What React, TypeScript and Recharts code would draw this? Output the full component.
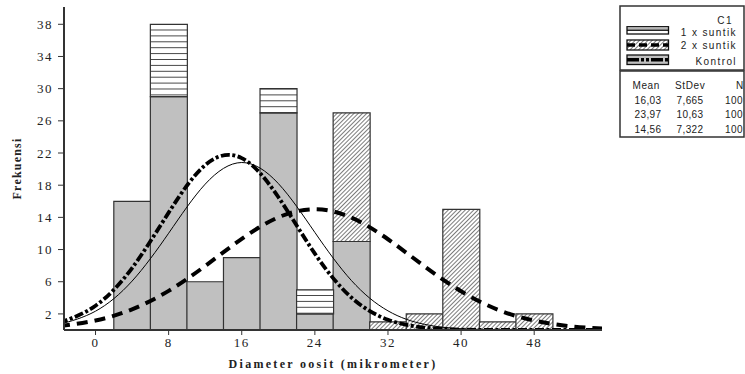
import React from 'react';
import { ComposedChart, Bar, Line, XAxis, YAxis, Legend } from 'recharts';

// bin centres (width 4) – also the sample points of the fitted curves
const binCenters = [-4, 0, 4, 8, 12, 16, 20, 24, 28, 32, 36, 40, 44, 48, 52, 56];
// visible stacked segments of the histogram
const kontrolBars = [null, null, 16, 29, 6, 9, 27, 2, 11, null, null, null, null, null, null, null];
const satuSuntikBars = [null, null, null, 9, null, null, 3, 3, null, null, null, null, null, null, null, null];
const duaSuntikBars = [null, null, null, null, null, null, null, null, 16, 1, 2, 15, 1, 2, null, null];
// fitted normal curves
const kontrolCurve = [0.88, 3.02, 7.7, 14.59, 20.5, 21.37, 16.53, 9.49, 4.04, 1.28, 0.3, 0.05, 0.01, 0, 0, 0];
const satuSuntikCurve = [0.69, 2.34, 6.08, 12.03, 18.13, 20.82, 18.21, 12.13, 6.15, 2.38, 0.7, 0.16, 0.03, 0, 0, 0];
const duaSuntikCurve = [0.47, 1.18, 2.57, 4.86, 7.96, 11.33, 14.0, 15.01, 13.97, 11.28, 7.91, 4.82, 2.54, 1.17, 0.46, 0.16];

const xTicks = [0, 8, 16, 24, 32, 40, 48];
const yTicks = [2, 6, 10, 14, 18, 22, 26, 30, 34, 38];

const groupNames = ['1 x suntik', '2 x suntik', 'Kontrol'];
const statMeans = ['16,03', '23,97', '14,56'];
const statStDevs = ['7,665', '10,63', '7,322'];
const statNs = ['100', '100', '100'];

const data = binCenters.map((x, i) => ({
  x,
  kontrol: kontrolBars[i],
  satu: satuSuntikBars[i],
  dua: duaSuntikBars[i],
  kontrolFit: kontrolCurve[i],
  satuFit: satuSuntikCurve[i],
  duaFit: duaSuntikCurve[i],
}));

const SERIF = '"Liberation Serif", "Times New Roman", serif';
const SANS = '"Liberation Sans", Arial, sans-serif';

const renderLegend = () => {
  const sw = [
    { y: 21.7, h: 7.3, fill: 'url(#hlines)', dash: undefined, w: 1 },
    { y: 35, h: 10, fill: 'url(#hatch)', dash: '8 4', w: 3.5 },
    { y: 50, h: 9.5, fill: '#c0c0c0', dash: '12 2 3 2 3 2', w: 3.5 },
  ];
  const labelY = [30.8, 43.8, 59.5];
  const rowY = [98.5, 113, 127.5];
  return (
    <svg width={127} height={134} style={{ display: 'block', overflow: 'visible' }}>
      <rect x={1} y={1} width={124} height={64} fill="#fff" stroke="#333" strokeWidth={1.5} />
      <rect x={1} y={66} width={124} height={66} fill="#fff" stroke="#333" strokeWidth={1.5} />
      <text x={114} y={18.5} textAnchor="end" fontFamily={SANS} fontSize={10} letterSpacing={1.5} fill="#222">C1</text>
      {groupNames.map((g, i) => (
        <g key={g}>
          <rect x={8} y={sw[i].y} width={41.5} height={sw[i].h} fill={sw[i].fill} stroke="#111" strokeWidth={1.3} />
          <line x1={8} x2={49.5} y1={sw[i].y + sw[i].h / 2} y2={sw[i].y + sw[i].h / 2} stroke="#000" strokeWidth={sw[i].w} strokeDasharray={sw[i].dash} />
          <text x={118} y={labelY[i]} textAnchor="end" fontFamily={SANS} fontSize={10} letterSpacing={1.4} fill="#222">{g}</text>
        </g>
      ))}
      <text x={13.5} y={83.5} fontFamily={SANS} fontSize={10} letterSpacing={0.6} fill="#222">Mean</text>
      <text x={56} y={83.5} fontFamily={SANS} fontSize={10} letterSpacing={0.6} fill="#222">StDev</text>
      <text x={117} y={83.5} fontFamily={SANS} fontSize={10} fill="#222">N</text>
      {statMeans.map((m, i) => (
        <g key={m}>
          <text x={15.5} y={rowY[i]} fontFamily={SANS} fontSize={10} letterSpacing={0.4} fill="#222">{m}</text>
          <text x={57.5} y={rowY[i]} fontFamily={SANS} fontSize={10} letterSpacing={0.4} fill="#222">{statStDevs[i]}</text>
          <text x={106} y={rowY[i]} fontFamily={SANS} fontSize={10} letterSpacing={0.4} fill="#222">{statNs[i]}</text>
        </g>
      ))}
    </svg>
  );
};

export default function App() {
  return (
    <div style={{ position: 'absolute', left: 0, top: 0, width: 745, height: 374, background: '#fff' }}>
      <ComposedChart
        width={745}
        height={374}
        data={data}
        margin={{ top: 7, right: 143, bottom: 0, left: 4 }}
        barCategoryGap={0}
        barGap={0}
      >
        <defs>
          <pattern id="hlines" patternUnits="userSpaceOnUse" width={10} height={5.9}>
            <rect x={0} y={0} width={10} height={5.9} fill="#fff" />
            <line x1={0} x2={10} y1={0.5} y2={0.5} stroke="#333" strokeWidth={0.9} />
          </pattern>
          <pattern id="hatch" patternUnits="userSpaceOnUse" width={3} height={3} patternTransform="rotate(45)">
            <rect x={0} y={0} width={3} height={3} fill="#fff" />
            <line x1={0.5} x2={0.5} y1={0} y2={3} stroke="#444" strokeWidth={0.7} />
          </pattern>
        </defs>
        <XAxis
          dataKey="x"
          type="number"
          domain={[-3.45, 55.42]}
          allowDataOverflow
          ticks={xTicks}
          interval={0}
          height={44}
          tickSize={5}
          tickMargin={3}
          axisLine={{ stroke: '#333', strokeWidth: 2 }}
          tickLine={{ stroke: '#333' }}
          tick={{ fontSize: 13, fill: '#222', fontFamily: SERIF, letterSpacing: 1.5 }}
          label={{
            value: 'Diameter oosit (mikrometer)',
            position: 'insideBottom',
            offset: 6.5,
            style: { fontFamily: SERIF, fontWeight: 'bold', fontSize: 12, letterSpacing: 2.3, fill: '#222' },
          }}
        />
        <XAxis xAxisId="top" orientation="top" type="number" domain={[-3.45, 55.42]} allowDataOverflow height={0} tick={false} tickLine={false} axisLine={{ stroke: '#333', strokeWidth: 2 }} />
        <YAxis
          type="number"
          domain={[0, 40.15]}
          allowDataOverflow
          ticks={yTicks}
          interval={0}
          width={60}
          tickSize={6}
          tickMargin={5}
          axisLine={{ stroke: '#333', strokeWidth: 2 }}
          tickLine={{ stroke: '#333' }}
          tick={{ fontSize: 13, fill: '#222', fontFamily: SERIF, letterSpacing: 1.5 }}
          label={{
            value: 'Frekuensi',
            angle: -90,
            position: 'insideLeft',
            offset: 13,
            style: { textAnchor: 'middle', fontFamily: SERIF, fontWeight: 'bold', fontSize: 12, letterSpacing: 1.2, fill: '#222' },
          }}
        />
        <YAxis yAxisId="right" orientation="right" type="number" domain={[0, 40.15]} width={0} tick={false} tickLine={false} axisLine={{ stroke: '#333', strokeWidth: 2 }} />
        <Bar dataKey="kontrol" stackId="s" fill="#c0c0c0" stroke="#333" strokeWidth={1.2} isAnimationActive={false} />
        <Bar dataKey="satu" stackId="s" fill="url(#hlines)" stroke="#333" strokeWidth={1.2} isAnimationActive={false} />
        <Bar dataKey="dua" stackId="s" fill="url(#hatch)" stroke="#333" strokeWidth={1.2} isAnimationActive={false} />
        <Line type="natural" dataKey="satuFit" stroke="#000" strokeWidth={1} dot={false} activeDot={false} isAnimationActive={false} />
        <Line type="natural" dataKey="duaFit" stroke="#000" strokeWidth={4} strokeDasharray="11 7" dot={false} activeDot={false} isAnimationActive={false} />
        <Line type="natural" dataKey="kontrolFit" stroke="#000" strokeWidth={3.8} strokeDasharray="9 2.5 3 2.5" dot={false} activeDot={false} isAnimationActive={false} />
        <Legend
          content={renderLegend}
          layout="horizontal"
          verticalAlign="middle"
          align="center"
          wrapperStyle={{ left: 619, top: 5, width: 127, height: 134 }}
        />
      </ComposedChart>
    </div>
  );
}
